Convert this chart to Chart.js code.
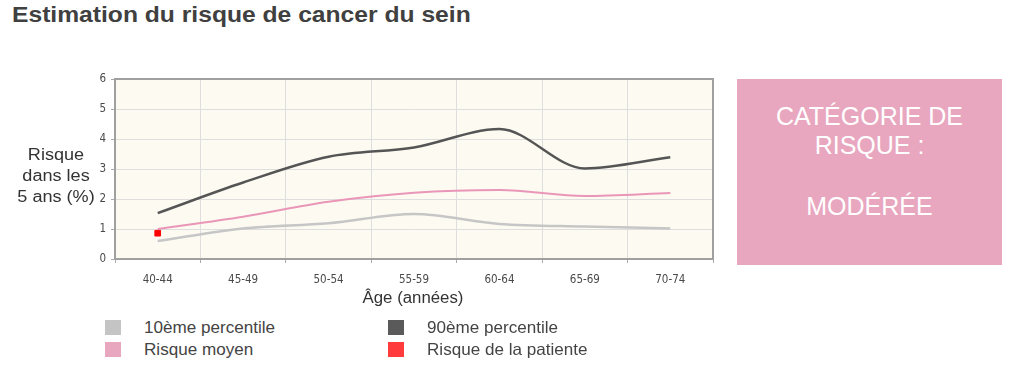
<!DOCTYPE html>
<html><head><meta charset="utf-8">
<script src="https://cdn.jsdelivr.net/npm/chart.js@4/dist/chart.umd.min.js"></script>
<style>
html,body{margin:0;padding:0;background:#fff;width:1024px;height:392px;overflow:hidden;font-family:"Liberation Sans",Arial,sans-serif;}
#wrap{position:relative;width:1024px;height:392px;}
#title{position:absolute;left:12px;top:2px;font-size:22px;font-weight:bold;color:#404040;white-space:nowrap;line-height:26px;transform:scaleX(1.12);transform-origin:0 0;}
#ytitle{position:absolute;left:6px;top:144px;width:100px;text-align:center;font-size:16px;line-height:21px;color:#333;transform:scaleX(1.13);transform-origin:50px 0;}
#xtitle{position:absolute;left:313px;top:288px;width:200px;text-align:center;font-size:16px;line-height:20px;color:#333;transform:scaleX(1.05);}
#cv{position:absolute;left:0;top:0;}
.leg{position:absolute;font-size:16.5px;color:#444;line-height:20px;white-space:nowrap;transform:scaleX(1.035);transform-origin:0 0;}
.sw{position:absolute;width:16px;height:15px;}
#box{position:absolute;left:737px;top:79px;width:265px;height:186px;background:#e8a7bf;color:#fff;text-align:center;font-size:25px;line-height:29px;}
</style></head>
<body><div id="wrap">
<div id="title">Estimation du risque de cancer du sein</div>
<canvas id="cv" width="730" height="290"></canvas>
<div id="ytitle">Risque<br>dans les<br>5 ans (%)</div>
<div id="xtitle">Âge (années)</div>
<div id="legend"></div>
<div id="box"><div style="position:absolute;left:0;right:0;top:23px">CATÉGORIE DE<br>RISQUE :</div><div style="position:absolute;left:0;right:0;top:113px">MODÉRÉE</div></div>
</div>
<script>
const categories = ["40-44","45-49","50-54","55-59","60-64","65-69","70-74"];
const yTicks = [0,1,2,3,4,5,6];
const p10 = [0.6, 1.02, 1.19, 1.5, 1.17, 1.08, 1.02];
const p90 = [1.53, 2.55, 3.41, 3.72, 4.33, 3.02, 3.39];
const moyen = [1.0, 1.41, 1.91, 2.21, 2.3, 2.1, 2.2];
const patiente = [0.86, null, null, null, null, null, null];
const seriesNames = ["10ème percentile","90ème percentile","Risque moyen","Risque de la patiente"];
const seriesColors = ["#c4c4c4","#5a5a5a","#e8a7bf","#ff3b3b"];

// legend (HTML)
const legPos = [[105,144,320],[388,427,320],[105,144,342],[388,427,342]];
const legOrder = [0,1,2,3];
const legEl = document.getElementById('legend');
legOrder.forEach((si,i)=>{
  const [sx,tx,y]=legPos[i];
  const s=document.createElement('div');s.className='sw';s.style.left=sx+'px';s.style.top=y+'px';s.style.background=seriesColors[si];legEl.appendChild(s);
  const t=document.createElement('div');t.className='leg';t.style.left=tx+'px';t.style.top=(y-3)+'px';t.textContent=seriesNames[si];legEl.appendChild(t);
});

const bgPlugin = {
  id:'bg',
  beforeDraw(chart){
    const {ctx,chartArea:a}=chart;
    ctx.save();ctx.fillStyle='#fdfbf1';ctx.fillRect(a.left,a.top,a.right-a.left,a.bottom-a.top);ctx.restore();
  },
  beforeDatasetsDraw(chart){
    const {ctx,chartArea:a}=chart;
    ctx.save();
    ctx.strokeStyle='#a0a0a0';ctx.lineWidth=2;
    ctx.strokeRect(a.left,a.top,a.right-a.left,a.bottom-a.top);
    ctx.restore();
  }
};

const tickFont={family:'"DejaVu Sans Condensed","DejaVu Sans",sans-serif',size:11.5};
new Chart(document.getElementById('cv'),{
  type:'line',
  data:{labels:categories,datasets:[
    {label:seriesNames[3],data:patiente,showLine:false,pointStyle:'rect',pointRadius:4,pointBackgroundColor:'#ff0000',pointBorderColor:'#ff0000',borderColor:'#ff0000',order:0},
    {label:seriesNames[1],data:p90,borderColor:'#555555',borderWidth:2.5,pointRadius:0,cubicInterpolationMode:'monotone',order:1},
    {label:seriesNames[2],data:moyen,borderColor:'#e996b8',borderWidth:2,pointRadius:0,cubicInterpolationMode:'monotone',order:2},
    {label:seriesNames[0],data:p10,borderColor:'#c6c6c6',borderWidth:2.5,pointRadius:0,cubicInterpolationMode:'monotone',order:3}
  ]},
  options:{
    responsive:false,animation:false,
    layout:{padding:{left:0,top:79,right:17,bottom:0}},
    plugins:{legend:{display:false},tooltip:{enabled:false}},
    scales:{
      x:{offset:true,
        grid:{offset:true,color:'#dedede',lineWidth:1,tickLength:4,tickColor:'#aaa',drawTicks:true},
        border:{display:true,color:'#a0a0a0',width:2},
        ticks:{font:tickFont,color:'#4a4a4a',padding:10,maxRotation:0,autoSkip:false},
        afterFit(s){s.height=31;}
      },
      y:{min:0,max:6,
        afterBuildTicks(s){s.ticks=yTicks.map(v=>({value:v}));},
        grid:{color:'#dedede',lineWidth:1,tickLength:4,tickColor:'#aaa'},
        border:{display:true,color:'#a0a0a0',width:2},
        ticks:{font:tickFont,color:'#4a4a4a',padding:5},
        afterFit(s){s.width=115;}
      }
    }
  },
  plugins:[bgPlugin]
});
</script>
</body></html>
